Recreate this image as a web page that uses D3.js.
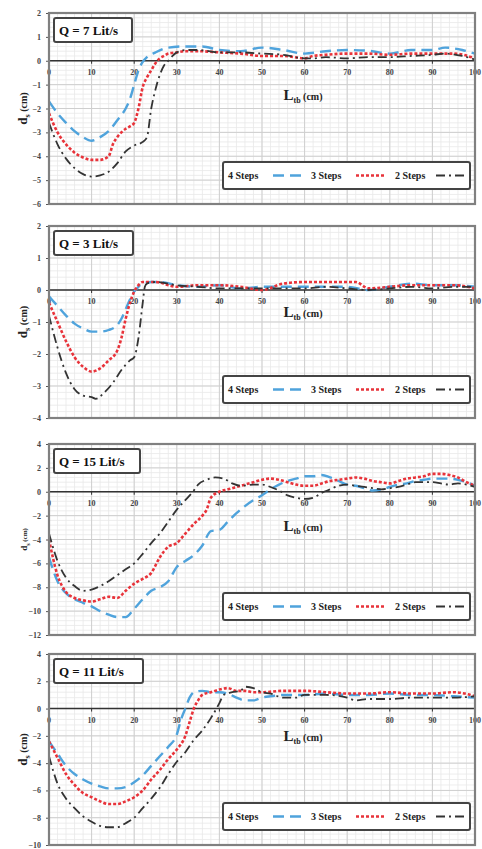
<!DOCTYPE html>
<html>
<head>
<meta charset="utf-8">
<script src="https://cdn.jsdelivr.net/npm/d3@7"></script>
<style>
  body { margin: 0; background: #fff; }
  text { font-family: "Liberation Serif", "DejaVu Serif", serif; font-weight: bold; }
</style>
</head>
<body>
<script>
// ---- data ----
var xTicks = [0, 10, 20, 30, 40, 50, 60, 70, 80, 90, 100];
var seriesNames = ["4 Steps", "3 Steps", "2 Steps"];

// Q = 7 Lit/s
var q7Steps4 = [[0,-1.7],[2,-2.2],[4,-2.6],[6,-2.95],[8,-3.2],[10,-3.35],[12,-3.2],[14,-2.95],[16,-2.5],[18,-2.0],[19,-1.6],[20,-1.0],[21,-0.4],[22,-0.05],[23,0.15],[25,0.35],[28,0.55],[32,0.6],[36,0.6],[40,0.45],[45,0.4],[50,0.55],[55,0.45],[60,0.3],[65,0.4],[70,0.45],[75,0.42],[80,0.3],[85,0.45],[90,0.45],[93,0.55],[97,0.45],[100,0.3]];
var q7Steps3 = [[0,-2.2],[2,-3.0],[4,-3.5],[6,-3.85],[8,-4.05],[10,-4.15],[12,-4.15],[14,-4.0],[15,-3.5],[16,-3.2],[17,-3.0],[18,-2.85],[19,-2.75],[20,-2.6],[21,-2.0],[22,-1.1],[23,-0.7],[24,-0.4],[25,-0.1],[26,0.1],[27,0.2],[28,0.3],[30,0.35],[32,0.4],[35,0.4],[40,0.35],[45,0.3],[50,0.2],[55,0.2],[60,0.1],[62,0.2],[65,0.25],[70,0.3],[75,0.3],[80,0.25],[85,0.3],[90,0.3],[95,0.3],[100,0.1]];
var q7Steps2 = [[0,-2.6],[2,-3.5],[4,-4.1],[6,-4.5],[8,-4.75],[10,-4.85],[12,-4.8],[14,-4.65],[16,-4.3],[18,-3.8],[20,-3.55],[22,-3.4],[23,-3.2],[24,-2.0],[25,-1.2],[26,-0.6],[27,-0.2],[28,0],[29,0.2],[30,0.35],[32,0.45],[35,0.45],[40,0.35],[45,0.35],[50,0.3],[55,0.25],[60,0.1],[62,0.1],[65,0.15],[70,0.1],[75,0.15],[80,0.15],[85,0.2],[90,0.25],[93,0.3],[97,0.2],[100,0.05]];

// Q = 3 Lit/s
var q3Steps4 = [[0,-0.2],[2,-0.5],[4,-0.8],[6,-1.05],[8,-1.2],[10,-1.3],[12,-1.3],[14,-1.25],[16,-1.1],[17,-0.9],[18,-0.6],[19,-0.3],[20,-0.05],[21,0.1],[22,0.2],[24,0.25],[26,0.25],[30,0.15],[35,0.1],[40,0.15],[45,0.05],[50,0.1],[55,0.1],[60,0.1],[65,0.1],[70,0.1],[75,0.0],[80,0.1],[85,0.2],[90,0.15],[95,0.15],[100,0.1]];
var q3Steps3 = [[0,-0.4],[2,-1.0],[4,-1.6],[6,-2.1],[8,-2.4],[10,-2.55],[12,-2.45],[14,-2.2],[16,-1.9],[17,-1.5],[18,-0.9],[19,-0.4],[20,-0.05],[21,0.15],[22,0.25],[25,0.25],[30,0.1],[35,0.15],[40,0.15],[45,0.1],[50,0.0],[55,0.2],[60,0.25],[65,0.25],[70,0.25],[72,0.25],[75,0.05],[80,0.1],[85,0.15],[90,0.15],[95,0.15],[100,0.05]];
var q3Steps2 = [[0,-0.8],[2,-1.8],[4,-2.6],[6,-3.1],[8,-3.3],[10,-3.35],[11,-3.4],[13,-3.2],[15,-2.9],[17,-2.5],[19,-2.2],[20,-2.1],[21,-1.5],[22,-0.4],[22.5,0.1],[23,0.2],[25,0.25],[30,0.15],[35,0.1],[40,0.05],[45,0.05],[50,0.05],[55,0.05],[60,0.05],[65,0.1],[70,0.05],[75,0.0],[80,0.05],[85,0.1],[90,0.05],[95,0.1],[100,0.1]];

// Q = 15 Lit/s
var q15Steps4 = [[0,-5.5],[2,-7.5],[4,-8.5],[6,-9.0],[8,-9.3],[10,-9.6],[12,-10.0],[14,-10.3],[16,-10.5],[18,-10.5],[20,-9.8],[22,-9.0],[24,-8.3],[26,-8.0],[28,-7.5],[30,-6.3],[32,-5.8],[34,-5.3],[36,-4.5],[38,-3.3],[40,-3.2],[42,-2.5],[44,-1.8],[46,-1.2],[48,-0.7],[50,-0.3],[52,0.2],[54,0.6],[56,0.9],[58,1.1],[60,1.3],[62,1.3],[64,1.4],[66,1.2],[68,0.9],[70,0.6],[72,0.5],[74,0.3],[76,0.1],[78,0.2],[80,0.4],[82,0.6],[84,0.7],[86,0.9],[88,1.0],[90,1.1],[92,1.1],[94,1.1],[96,1.0],[98,0.8],[100,0.5]];
var q15Steps3 = [[0,-4.0],[2,-7.0],[4,-8.4],[6,-8.9],[8,-9.1],[10,-9.2],[12,-9.0],[14,-8.8],[16,-8.9],[18,-8.3],[20,-7.7],[22,-7.3],[24,-6.8],[26,-5.5],[28,-4.6],[30,-4.3],[32,-3.5],[34,-2.7],[36,-2.0],[37,-1.5],[38,-0.5],[40,0],[42,0.2],[44,0.4],[46,0.6],[48,0.8],[50,1.0],[52,1.1],[54,1.0],[56,0.8],[58,0.6],[60,0.5],[62,0.5],[64,0.7],[66,0.9],[68,1.0],[70,1.1],[72,1.2],[74,1.1],[76,0.9],[78,0.8],[80,0.7],[82,0.9],[84,1.1],[86,1.2],[88,1.3],[90,1.5],[92,1.5],[94,1.4],[96,1.2],[98,0.8],[100,0.5]];
var q15Steps2 = [[0,-3.5],[2,-5.8],[4,-7.2],[6,-7.9],[8,-8.3],[10,-8.2],[12,-7.9],[14,-7.5],[16,-7.0],[18,-6.5],[20,-6.0],[22,-5.2],[24,-4.3],[26,-3.5],[28,-2.5],[30,-1.5],[32,-0.7],[34,0.1],[35,0.6],[37,1.0],[39,1.2],[41,1.1],[43,0.7],[45,0.5],[48,0.6],[50,0.6],[52,0.4],[54,0.1],[56,-0.3],[58,-0.5],[60,-0.6],[62,-0.5],[64,-0.1],[66,0.2],[68,0.5],[70,0.6],[72,0.5],[74,0.4],[76,0.3],[78,0.2],[80,0.3],[82,0.4],[84,0.6],[86,0.8],[88,0.8],[90,0.8],[92,0.7],[94,0.6],[96,0.7],[98,0.6],[100,0.4]];

// Q = 11 Lit/s
var q11Steps4 = [[0,-2.4],[2,-3.3],[4,-4.2],[6,-4.8],[8,-5.2],[10,-5.5],[12,-5.7],[14,-5.85],[16,-5.85],[18,-5.75],[20,-5.4],[22,-4.9],[24,-4.2],[26,-3.5],[28,-2.8],[30,-1.9],[31,-0.8],[32,0.0],[33,0.8],[34,1.2],[36,1.3],[38,1.2],[40,1.2],[42,1.1],[44,0.8],[46,0.6],[48,0.6],[50,0.8],[52,0.9],[55,1.0],[58,1.0],[60,1.0],[65,1.1],[70,1.0],[75,1.0],[80,1.1],[85,1.0],[90,1.0],[95,0.9],[100,0.8]];
var q11Steps3 = [[0,-2.4],[2,-3.6],[4,-4.8],[6,-5.6],[8,-6.2],[10,-6.5],[12,-6.8],[14,-7.0],[16,-7.0],[18,-6.8],[20,-6.5],[22,-6.0],[24,-5.2],[26,-4.5],[28,-3.7],[30,-3.0],[32,-2.0],[33,-1.0],[34,0.0],[35,0.6],[36,1.0],[38,1.2],[40,1.4],[42,1.5],[44,1.3],[46,1.3],[48,1.2],[50,1.2],[55,1.3],[60,1.3],[65,1.2],[70,1.1],[75,1.1],[80,1.2],[85,1.1],[90,1.1],[95,1.2],[100,0.9]];
var q11Steps2 = [[0,-3.5],[2,-5.5],[4,-6.6],[6,-7.3],[8,-7.9],[10,-8.3],[12,-8.6],[14,-8.7],[16,-8.7],[18,-8.4],[20,-8.0],[22,-7.3],[24,-6.6],[26,-5.8],[28,-4.8],[30,-3.9],[32,-3.2],[34,-2.3],[36,-1.6],[38,-0.7],[40,0.4],[41,1.0],[43,1.2],[45,1.3],[46,1.6],[48,1.5],[50,1.2],[52,1.1],[55,0.8],[58,0.8],[60,1.0],[65,1.0],[70,0.8],[72,0.6],[75,0.7],[80,0.7],[85,0.8],[90,0.8],[95,0.8],[100,0.9]];

var panelTitles = ["Q = 7 Lit/s", "Q = 3 Lit/s", "Q = 15 Lit/s", "Q = 11 Lit/s"];
var yDomains = [[-6, 2], [-4, 2], [-12, 4], [-10, 4]];
var yTickSteps = [1, 1, 2, 2];
var panelSeries = [
  [q7Steps4, q7Steps3, q7Steps2],
  [q3Steps4, q3Steps3, q3Steps2],
  [q15Steps4, q15Steps3, q15Steps2],
  [q11Steps4, q11Steps3, q11Steps2]
];

// ---- layout ----
var W = 482, H = 849;
var plotLeft = 49, plotRight = 475;
var panelTop = [13, 226, 444, 654];
var panelBottom = [204, 418, 635, 845];
var xLabelDy = [39, 27, 39, 32];
var titleBoxW = [78, 79, 86, 89];

var colors = ["#4fa3dc", "#e8333a", "#333333"];
var dashes = ["11,6", "3,2", "9,4,2,4"];
var widths = [2.4, 2.6, 1.8];

var svg = d3.select("body").append("svg")
  .attr("width", W)
  .attr("height", H);

var x = d3.scaleLinear().domain([0, 100]).range([plotLeft, plotRight]);

panelSeries.forEach(function (series, p) {
  var g = svg.append("g");
  var y = d3.scaleLinear().domain(yDomains[p]).range([panelBottom[p], panelTop[p]]);
  var step = yTickSteps[p];
  var yTicks = d3.range(yDomains[p][0], yDomains[p][1] + step / 2, step);
  var yMinor = d3.range(yDomains[p][0], yDomains[p][1] + 1e-9, step / 5);
  var xMinor = d3.range(0, 100.01, 2);

  // minor grid
  g.append("g").selectAll("line").data(xMinor).enter().append("line")
    .attr("x1", function (d) { return x(d); }).attr("x2", function (d) { return x(d); })
    .attr("y1", panelTop[p]).attr("y2", panelBottom[p])
    .style("stroke", "#e8e8e8").style("stroke-width", 0.8);
  g.append("g").selectAll("line").data(yMinor).enter().append("line")
    .attr("x1", plotLeft).attr("x2", plotRight)
    .attr("y1", function (d) { return y(d); }).attr("y2", function (d) { return y(d); })
    .style("stroke", "#e8e8e8").style("stroke-width", 0.8);

  // major grid
  g.append("g").selectAll("line").data(xTicks).enter().append("line")
    .attr("x1", function (d) { return x(d); }).attr("x2", function (d) { return x(d); })
    .attr("y1", panelTop[p]).attr("y2", panelBottom[p])
    .style("stroke", "#cfcfcf").style("stroke-width", 1);
  g.append("g").selectAll("line").data(yTicks).enter().append("line")
    .attr("x1", plotLeft).attr("x2", plotRight)
    .attr("y1", function (d) { return y(d); }).attr("y2", function (d) { return y(d); })
    .style("stroke", "#cfcfcf").style("stroke-width", 1);

  // zero line with x ticks and labels
  g.append("line")
    .attr("x1", plotLeft).attr("x2", plotRight)
    .attr("y1", y(0)).attr("y2", y(0))
    .style("stroke", "#333").style("stroke-width", 1.6);
  g.append("g").selectAll("line").data(xTicks).enter().append("line")
    .attr("x1", function (d) { return x(d); }).attr("x2", function (d) { return x(d); })
    .attr("y1", y(0)).attr("y2", y(0) + 3)
    .style("stroke", "#333").style("stroke-width", 1);
  g.append("g").selectAll("text").data(xTicks).enter().append("text")
    .attr("x", function (d) { return x(d); })
    .attr("y", y(0) + 14)
    .attr("text-anchor", "middle")
    .style("font-size", "8px").style("fill", "#444")
    .text(function (d) { return d; });

  // y axis
  var yAxis = d3.axisLeft(y).tickValues(yTicks).tickSize(3).tickPadding(5).tickFormat(d3.format("d"));
  var ya = g.append("g").attr("transform", "translate(" + plotLeft + ",0)").call(yAxis);
  ya.select(".domain").remove();
  ya.selectAll("line").style("stroke", "#555");
  ya.selectAll("text").style("font-size", "8px").style("fill", "#444")
    .style("font-family", "Liberation Serif, serif").style("font-weight", "bold");

  // series
  var line = d3.line()
    .x(function (d) { return x(d[0]); })
    .y(function (d) { return y(d[1]); })
    .curve(d3.curveMonotoneX);
  series.forEach(function (s, i) {
    g.append("path")
      .datum(s)
      .attr("d", line)
      .style("fill", "none")
      .style("stroke", colors[i])
      .style("stroke-width", widths[i])
      .style("stroke-dasharray", dashes[i]);
  });

  // frame
  g.append("rect")
    .attr("x", plotLeft).attr("y", panelTop[p])
    .attr("width", plotRight - plotLeft).attr("height", panelBottom[p] - panelTop[p])
    .style("fill", "none").style("stroke", "#808080").style("stroke-width", 2.2);

  // axis titles
  var xl = g.append("text")
    .attr("x", 303).attr("y", y(0) + xLabelDy[p])
    .attr("text-anchor", "middle")
    .style("fill", "#222");
  xl.append("tspan").style("font-size", "15px").text("L");
  xl.append("tspan").style("font-size", "8px").attr("dy", 3).text("tb");
  xl.append("tspan").style("font-size", "10px").attr("dy", -3).text(" (cm)");

  var yl = g.append("text")
    .attr("transform", "translate(27," + ((panelTop[p] + panelBottom[p]) / 2) + ") rotate(-90)")
    .attr("text-anchor", "middle")
    .style("fill", "#222");
  var big = p === 2 ? 9 : 13, small = p === 2 ? 6 : 8, mid = p === 2 ? 7 : 10;
  yl.append("tspan").style("font-size", big + "px").text("d");
  yl.append("tspan").style("font-size", small + "px").attr("dy", 3).text("s");
  yl.append("tspan").style("font-size", mid + "px").attr("dy", -3).text(" (cm)");

  // title box
  var tb = g.append("g").attr("transform", "translate(54," + (panelTop[p] + 5) + ")");
  tb.append("rect")
    .attr("width", titleBoxW[p]).attr("height", 24).attr("rx", 2)
    .style("fill", "#fff").style("stroke", "#444").style("stroke-width", 2);
  tb.append("text")
    .attr("x", 5).attr("y", 17)
    .style("font-size", "13px").style("fill", "#111")
    .text(panelTitles[p]);

  // legend
  var lg = g.append("g").attr("transform", "translate(223," + (panelBottom[p] - 42) + ")");
  lg.append("rect")
    .attr("width", 247).attr("height", 27).attr("rx", 2)
    .style("fill", "#fff").style("stroke", "#444").style("stroke-width", 2);
  var textX = [5, 88, 172], sampleX = [50, 133, 213];
  seriesNames.forEach(function (n, i) {
    lg.append("text")
      .attr("x", textX[i]).attr("y", 17)
      .style("font-size", "10px").style("fill", "#222")
      .text(n);
    lg.append("line")
      .attr("x1", sampleX[i]).attr("x2", sampleX[i] + 28)
      .attr("y1", 13.5).attr("y2", 13.5)
      .style("stroke", colors[i])
      .style("stroke-width", widths[i])
      .style("stroke-dasharray", dashes[i]);
  });
});
</script>
</body>
</html>
